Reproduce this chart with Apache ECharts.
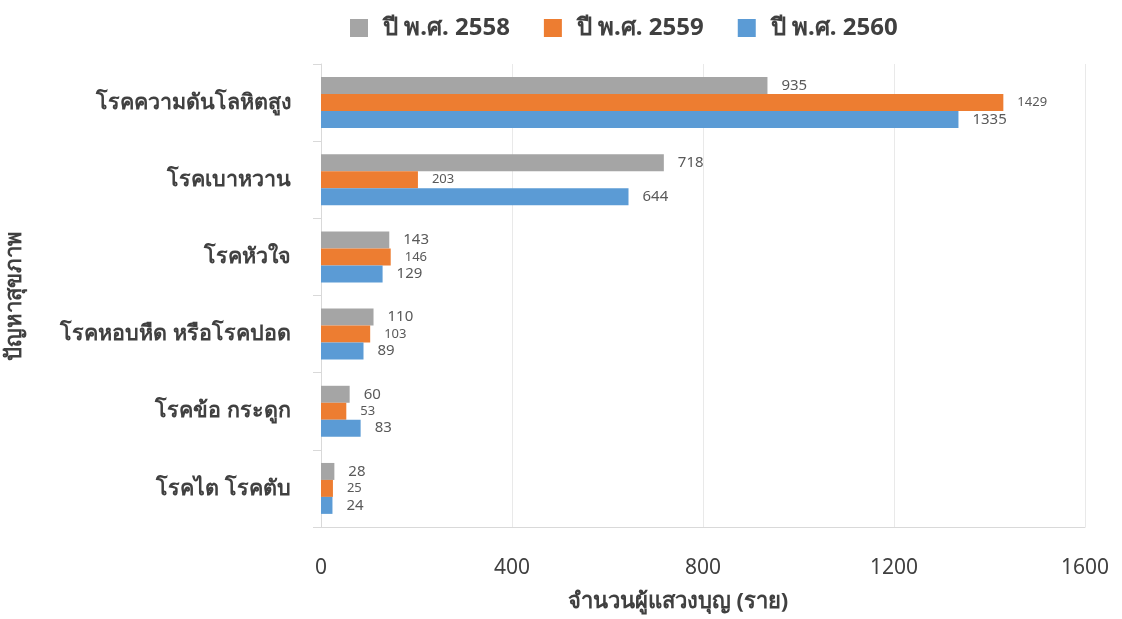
<!DOCTYPE html>
<html>
<head>
<meta charset="utf-8">
<script src="https://cdn.jsdelivr.net/npm/echarts@6/dist/echarts.min.js"></script>
<style>
  html, body { margin: 0; padding: 0; background: #fff; }
  #chart { width: 1122px; height: 619px; }
</style>
</head>
<body>
<div id="chart"></div>
<script>
// หมวดปัญหาสุขภาพ (บนลงล่าง)
const categories = ['โรคความดันโลหิตสูง', 'โรคเบาหวาน', 'โรคหัวใจ', 'โรคหอบหืด หรือโรคปอด', 'โรคข้อ กระดูก', 'โรคไต โรคตับ'];
const years = ['ปี พ.ศ. 2558', 'ปี พ.ศ. 2559', 'ปี พ.ศ. 2560'];
const values2558 = [935, 718, 143, 110, 60, 28];
const values2559 = [1429, 203, 146, 103, 53, 25];
const values2560 = [1335, 644, 129, 89, 83, 24];
const xTicks = [0, 1600, 400];

const colors = ['#a5a5a5', '#ed7d31', '#5b9bd5'];
const FONT = '"Noto Sans", "DejaVu Sans", sans-serif';

const chart = echarts.init(document.getElementById('chart'));

const makeSeries = (name, data, color, labelSize) => ({
  name: name,
  type: 'bar',
  data: data,
  barGap: '0%',
  barCategoryGap: '34%',
  itemStyle: { color: color },
  label: {
    show: true,
    position: 'right',
    distance: 14,
    color: '#595959',
    fontSize: labelSize,
    fontFamily: FONT
  }
});

chart.setOption({
  backgroundColor: '#ffffff',
  textStyle: { fontFamily: FONT },
  color: colors,
  legend: {
    data: years,
    top: 11,
    left: 345,
    itemWidth: 18,
    itemHeight: 18,
    itemGap: 34,
    icon: 'rect',
    textStyle: { fontSize: 24, fontWeight: 'bold', color: '#404040', fontFamily: FONT, padding: [0, 0, 0, 10] }
  },
  grid: { left: 321, right: 37, top: 64, bottom: 92, containLabel: false, outerBoundsMode: 'none' },
  xAxis: {
    type: 'value',
    min: xTicks[0],
    max: xTicks[1],
    interval: xTicks[2],
    name: 'จำนวนผู้แสวงบุญ (ราย)',
    nameLocation: 'middle',
    nameGap: 64,
    nameTextStyle: { fontSize: 22, fontWeight: 'bold', color: '#404040', fontFamily: FONT, padding: [0, 50, 0, 0] },
    axisLine: { show: true, lineStyle: { color: '#d9d9d9' } },
    axisTick: { show: false },
    axisLabel: { fontSize: 21, color: '#404040', margin: 31, fontFamily: FONT, formatter: v => String(v) },
    splitLine: { show: true, lineStyle: { color: '#e9e9e9' } }
  },
  yAxis: {
    type: 'category',
    data: categories,
    inverse: true,
    name: 'ปัญหาสุขภาพ',
    nameLocation: 'middle',
    nameGap: 295,
    nameRotate: 90,
    nameTextStyle: { fontSize: 22, fontWeight: 'bold', color: '#404040', fontFamily: FONT },
    axisLine: { show: true, lineStyle: { color: '#d9d9d9' } },
    axisTick: { show: true, length: 8, lineStyle: { color: '#d9d9d9' } },
    axisLabel: { fontSize: 21.5, fontWeight: 'bold', color: '#404040', margin: 30, fontFamily: FONT }
  },
  series: [
    makeSeries(years[0], values2558, colors[0], 15),
    makeSeries(years[1], values2559, colors[1], 13),
    makeSeries(years[2], values2560, colors[2], 15)
  ]
});
</script>
</body>
</html>
